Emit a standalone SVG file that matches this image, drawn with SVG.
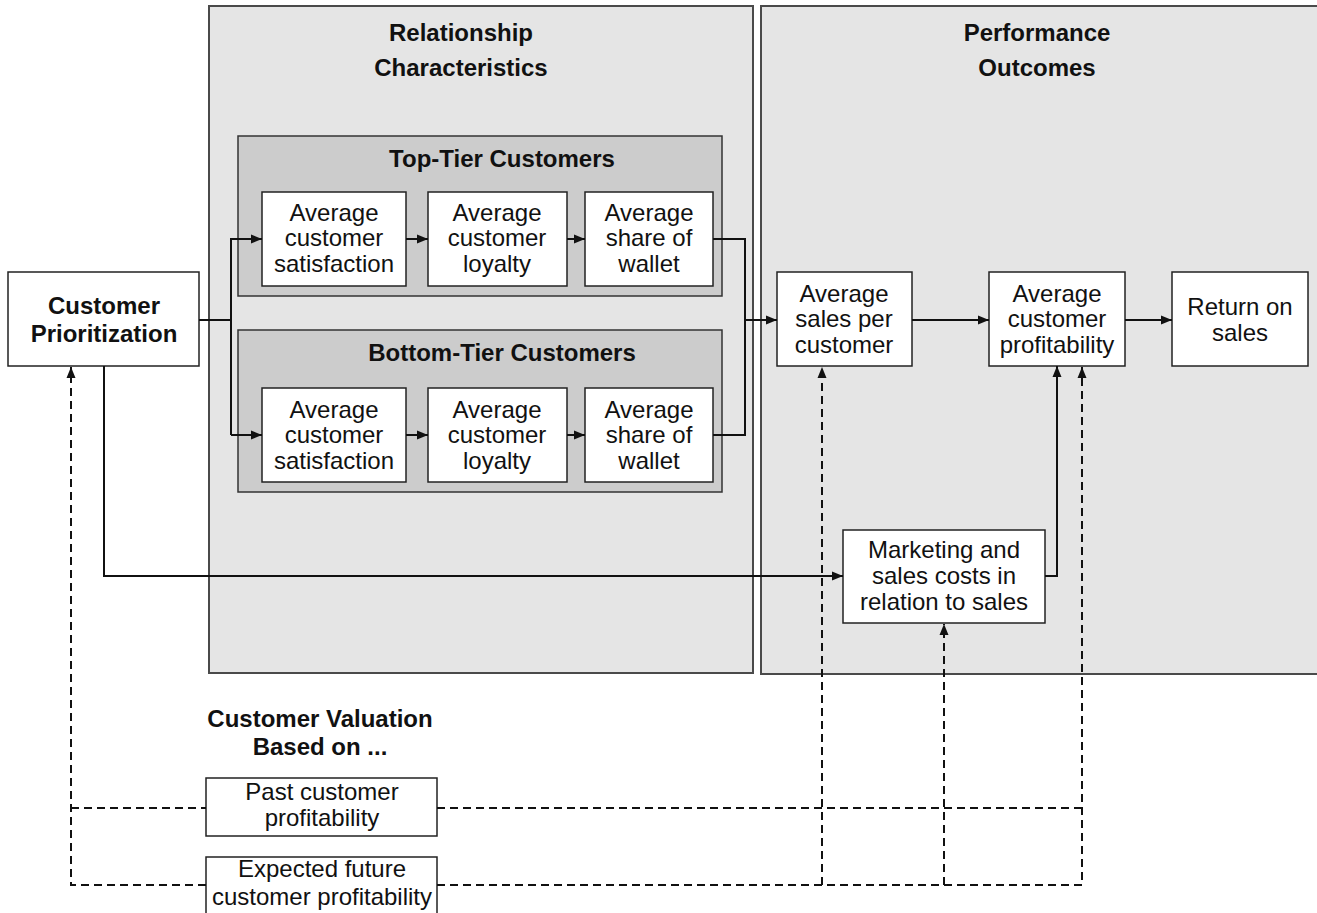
<svg xmlns="http://www.w3.org/2000/svg" width="1317" height="913" viewBox="0 0 1317 913">
<style>
.panel{fill:#e5e5e5;stroke:#4a4a4a;stroke-width:2}
.group{fill:#cccccc;stroke:#333;stroke-width:1.5}
.box{fill:#fff;stroke:#222;stroke-width:1.5}
.t{font-family:"Liberation Sans",Arial,sans-serif;font-size:24px;fill:#111;text-anchor:middle}
.b{font-weight:bold}
.ln{fill:none;stroke:#111;stroke-width:2}
.dl{fill:none;stroke:#111;stroke-width:2;stroke-dasharray:8,5}
</style>
<defs>
<marker id="ah" markerUnits="userSpaceOnUse" markerWidth="12" markerHeight="10" refX="11" refY="5" orient="auto">
<path d="M0,0.5 L11,5 L0,9.5 z" fill="#111"/>
</marker>
</defs>

<g id="panel-relationship">
<rect class="panel" x="209" y="6" width="544" height="667"/>
<text class="t b" x="461" y="41">Relationship</text>
<text class="t b" x="461" y="76">Characteristics</text>
</g>
<g id="panel-performance">
<rect class="panel" x="761" y="6" width="570" height="668"/>
<text class="t b" x="1037" y="41">Performance</text>
<text class="t b" x="1037" y="76">Outcomes</text>
</g>

<g id="top-tier">
<rect class="group" x="238" y="136" width="484" height="160"/>
<text class="t b" x="502" y="167">Top-Tier Customers</text>
</g>
<g id="bottom-tier">
<rect class="group" x="238" y="330" width="484" height="162"/>
<text class="t b" x="502" y="361">Bottom-Tier Customers</text>
</g>

<g id="customer-prioritization">
<rect class="box" x="8" y="272" width="191" height="94"/>
<text class="t b" x="104" y="314">Customer</text>
<text class="t b" x="104" y="342">Prioritization</text>
</g>

<g id="top-satisfaction">
<rect class="box" x="262" y="192" width="144" height="94"/>
<text class="t" x="334" y="221">Average</text>
<text class="t" x="334" y="246">customer</text>
<text class="t" x="334" y="272">satisfaction</text>
</g>
<g id="top-loyalty">
<rect class="box" x="428" y="192" width="139" height="94"/>
<text class="t" x="497" y="221">Average</text>
<text class="t" x="497" y="246">customer</text>
<text class="t" x="497" y="272">loyalty</text>
</g>
<g id="top-share">
<rect class="box" x="585" y="192" width="128" height="94"/>
<text class="t" x="649" y="221">Average</text>
<text class="t" x="649" y="246">share of</text>
<text class="t" x="649" y="272">wallet</text>
</g>

<g id="bottom-satisfaction">
<rect class="box" x="262" y="388" width="144" height="94"/>
<text class="t" x="334" y="418">Average</text>
<text class="t" x="334" y="443">customer</text>
<text class="t" x="334" y="469">satisfaction</text>
</g>
<g id="bottom-loyalty">
<rect class="box" x="428" y="388" width="139" height="94"/>
<text class="t" x="497" y="418">Average</text>
<text class="t" x="497" y="443">customer</text>
<text class="t" x="497" y="469">loyalty</text>
</g>
<g id="bottom-share">
<rect class="box" x="585" y="388" width="128" height="94"/>
<text class="t" x="649" y="418">Average</text>
<text class="t" x="649" y="443">share of</text>
<text class="t" x="649" y="469">wallet</text>
</g>

<g id="sales-per-customer">
<rect class="box" x="777" y="272" width="135" height="94"/>
<text class="t" x="844" y="302">Average</text>
<text class="t" x="844" y="327">sales per</text>
<text class="t" x="844" y="353">customer</text>
</g>
<g id="customer-profitability">
<rect class="box" x="989" y="272" width="136" height="94"/>
<text class="t" x="1057" y="302">Average</text>
<text class="t" x="1057" y="327">customer</text>
<text class="t" x="1057" y="353">profitability</text>
</g>
<g id="return-on-sales">
<rect class="box" x="1172" y="272" width="136" height="94"/>
<text class="t" x="1240" y="315">Return on</text>
<text class="t" x="1240" y="341">sales</text>
</g>
<g id="marketing-costs">
<rect class="box" x="843" y="530" width="202" height="93"/>
<text class="t" x="944" y="558">Marketing and</text>
<text class="t" x="944" y="584">sales costs in</text>
<text class="t" x="944" y="610">relation to sales</text>
</g>

<g id="valuation-label">
<text class="t b" x="320" y="727">Customer Valuation</text>
<text class="t b" x="320" y="755">Based on ...</text>
</g>
<g id="past-profitability">
<rect class="box" x="206" y="778" width="231" height="58"/>
<text class="t" x="322" y="800">Past customer</text>
<text class="t" x="322" y="826">profitability</text>
</g>
<g id="future-profitability">
<rect class="box" x="206" y="857" width="231" height="70"/>
<text class="t" x="322" y="877">Expected future</text>
<text class="t" x="322" y="905">customer profitability</text>
</g>

<g id="connectors">
<polyline class="ln" points="199,320 231,320"/>
<polyline class="ln" points="231,238 231,435"/>
<polyline class="ln" points="231,239 262,239" marker-end="url(#ah)"/>
<polyline class="ln" points="231,435 262,435" marker-end="url(#ah)"/>
<polyline class="ln" points="406,239 428,239" marker-end="url(#ah)"/>
<polyline class="ln" points="567,239 585,239" marker-end="url(#ah)"/>
<polyline class="ln" points="406,435 428,435" marker-end="url(#ah)"/>
<polyline class="ln" points="567,435 585,435" marker-end="url(#ah)"/>
<polyline class="ln" points="713,239 745,239 745,435 713,435"/>
<polyline class="ln" points="745,320 777,320" marker-end="url(#ah)"/>
<polyline class="ln" points="912,320 989,320" marker-end="url(#ah)"/>
<polyline class="ln" points="1125,320 1172,320" marker-end="url(#ah)"/>
<polyline class="ln" points="104,366 104,576 843,576" marker-end="url(#ah)"/>
<polyline class="ln" points="1045,576 1057,576 1057,366" marker-end="url(#ah)"/>
<polyline class="dl" points="206,885 71,885 71,367" marker-end="url(#ah)"/>
<polyline class="dl" points="71,808 206,808"/>
<polyline class="dl" points="437,808 1082,808"/>
<polyline class="dl" points="437,885 1082,885 1082,367" marker-end="url(#ah)"/>
<polyline class="dl" points="822,885 822,367" marker-end="url(#ah)"/>
<polyline class="dl" points="944,885 944,624" marker-end="url(#ah)"/>
</g>
</svg>
